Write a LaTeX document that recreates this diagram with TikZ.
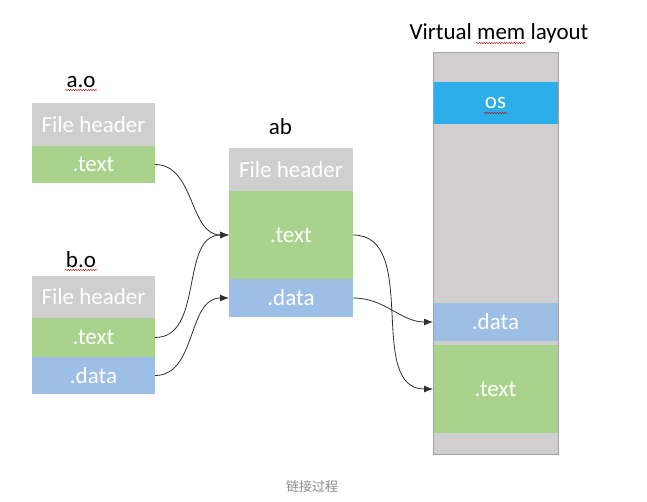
\documentclass[tikz,border=0pt]{standalone}
\usepackage{fontspec}
\setmainfont{Carlito}
\newfontfamily\cjk{Noto Sans CJK SC}
\usetikzlibrary{arrows.meta,decorations.pathmorphing}
\definecolor{hdrgray}{HTML}{CFCFCF}
\definecolor{secgreen}{HTML}{A9D38C}
\definecolor{secblue}{HTML}{9DBFE6}
\definecolor{osblue}{HTML}{2CAEEA}
\definecolor{vmgray}{HTML}{D0CECE}
\definecolor{vmborder}{HTML}{A3A3A3}
\definecolor{linegray}{HTML}{303030}
\definecolor{capgray}{HTML}{8A8A8A}
\begin{document}
\begin{tikzpicture}[x=1pt,y=-1pt,
  sec/.style={minimum width=123pt, inner sep=0pt, outer sep=0pt, anchor=north west, text=white, font=\fontsize{23}{27}\selectfont},
  lbl/.style={anchor=base, text=black, inner sep=0pt, font=\fontsize{23}{27}\selectfont},
  conn/.style={draw=linegray, line width=0.8pt, -{Latex[length=9pt,width=7pt]}, out=0, in=180},
  squig/.style={draw=red!80!black, line width=0.4pt, decorate, decoration={snake, amplitude=0.7pt, segment length=2.5pt}}]
\useasboundingbox (0,0) rectangle (647,501);

% a.o
\node[lbl] (alabel) at (81,87) {a.o};
\node[sec, fill=hdrgray, minimum height=43pt] (aoh) at (32,103) {File header};
\node[sec, fill=secgreen, minimum height=37pt] (aot) at (32,146) {.text};

% b.o
\node[lbl] (blabel) at (81,267) {b.o};
\node[sec, fill=hdrgray, minimum height=42pt] (boh) at (32,276) {File header};
\node[sec, fill=secgreen, minimum height=39pt] (bot) at (32,318) {.text};
\node[sec, fill=secblue, minimum height=37pt] (bod) at (32,357) {.data};

% ab
\node[lbl] (ablabel) at (280.5,134) {ab};
\node[sec, minimum width=124pt, fill=hdrgray, minimum height=43pt] (abh) at (229,148) {File header};
\node[sec, minimum width=124pt, fill=secgreen, minimum height=88pt] (abt) at (229,191) {.text};
\node[sec, minimum width=124pt, fill=secblue, minimum height=38pt] (abd) at (229,279) {.data};

% virtual memory
\node[lbl] (vmlabel) at (499,39) {Virtual mem layout};
\node[sec, minimum width=125pt, fill=vmgray, minimum height=402pt] (vm) at (433,52) {};
\node[sec, minimum width=125pt, fill=osblue, minimum height=42pt] (vmos) at (433,82) {os};
\node[sec, minimum width=125pt, fill=secblue, minimum height=38pt] (vmdata) at (433,303) {.data};
\node[sec, minimum width=125pt, fill=secgreen, minimum height=88pt] (vmtext) at (433,345) {.text};
\draw[vmborder, line width=0.8pt] (vm.north west) rectangle (vm.south east);

% spell-check underlines
\draw[squig] (65,90) -- (97,90);
\draw[squig] (65,270) -- (97,270);
\draw[squig] (476,43) -- (526,43);
\draw[squig] (484,113) -- (508,113);

% connectors
\draw[conn] (aot.east) to (abt.west);
\draw[conn] (bot.east) to (abt.west);
\draw[conn] (bod.east) to (abd.west);
\draw[conn] (abt.east) to (vmtext.west);
\draw[conn] (abd.east) to (vmdata.west);

% caption
\node[text=capgray, font=\cjk\fontsize{13}{15}\selectfont] (cap) at (312,487) {链接过程};
\end{tikzpicture}
\end{document}
